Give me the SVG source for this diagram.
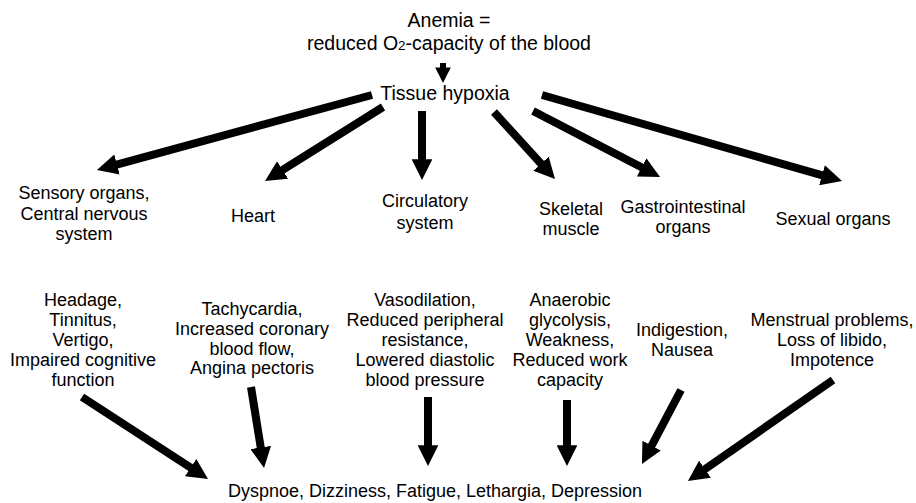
<svg xmlns="http://www.w3.org/2000/svg" width="916" height="503" viewBox="0 0 916 503">
<style>
  text { font-family: "Liberation Sans", Arial, sans-serif; fill: #000; text-anchor: middle; }
  .top { font-size: 19.5px; }
  .lbl { font-size: 18px; }
  .arr { stroke: #000; stroke-width: 8; fill: none; marker-end: url(#ah); }
  .arr-s { stroke: #000; stroke-width: 6; fill: none; marker-end: url(#ah); }
</style>
<defs>
  <marker id="ah" viewBox="0 0 10 10" refX="2" refY="5" markerWidth="2.6" markerHeight="2.6" orient="auto" markerUnits="strokeWidth">
    <path d="M0,0 L10,5 L0,10 z" fill="#000"/>
  </marker>
</defs>
<rect width="916" height="503" fill="#fff"/>

<g id="anemia">
  <text class="top" x="449" y="27">Anemia =</text>
  <text class="top" x="449" y="50">reduced O<tspan font-size="13.5">2</tspan>-capacity of the blood</text>
</g>
<g id="tissue-hypoxia">
  <text class="top" x="445" y="100">Tissue hypoxia</text>
</g>

<g id="sensory">
  <text class="lbl" x="84" y="199">Sensory organs,</text>
  <text class="lbl" x="84" y="220">Central nervous</text>
  <text class="lbl" x="84" y="240">system</text>
</g>
<g id="heart">
  <text class="lbl" x="253" y="222">Heart</text>
</g>
<g id="circulatory">
  <text class="lbl" x="425" y="207">Circulatory</text>
  <text class="lbl" x="425" y="229">system</text>
</g>
<g id="skeletal">
  <text class="lbl" x="571" y="215">Skeletal</text>
  <text class="lbl" x="571" y="235">muscle</text>
</g>
<g id="gastro">
  <text class="lbl" x="683" y="213">Gastrointestinal</text>
  <text class="lbl" x="683" y="233">organs</text>
</g>
<g id="sexual">
  <text class="lbl" x="833" y="225">Sexual organs</text>
</g>

<g id="sym-cns">
  <text class="lbl" x="83" y="306">Headage,</text>
  <text class="lbl" x="83" y="326">Tinnitus,</text>
  <text class="lbl" x="83" y="346">Vertigo,</text>
  <text class="lbl" x="83" y="366">Impaired cognitive</text>
  <text class="lbl" x="83" y="386">function</text>
</g>
<g id="sym-heart">
  <text class="lbl" x="252" y="315">Tachycardia,</text>
  <text class="lbl" x="252" y="335">Increased coronary</text>
  <text class="lbl" x="252" y="355">blood flow,</text>
  <text class="lbl" x="252" y="374">Angina pectoris</text>
</g>
<g id="sym-circ">
  <text class="lbl" x="425" y="306">Vasodilation,</text>
  <text class="lbl" x="425" y="326">Reduced peripheral</text>
  <text class="lbl" x="425" y="346">resistance,</text>
  <text class="lbl" x="425" y="366">Lowered diastolic</text>
  <text class="lbl" x="425" y="386">blood pressure</text>
</g>
<g id="sym-muscle">
  <text class="lbl" x="570" y="306">Anaerobic</text>
  <text class="lbl" x="570" y="326">glycolysis,</text>
  <text class="lbl" x="570" y="346">Weakness,</text>
  <text class="lbl" x="570" y="366">Reduced work</text>
  <text class="lbl" x="570" y="386">capacity</text>
</g>
<g id="sym-gi">
  <text class="lbl" x="682" y="336">Indigestion,</text>
  <text class="lbl" x="682" y="356">Nausea</text>
</g>
<g id="sym-sex">
  <text class="lbl" x="832" y="326">Menstrual problems,</text>
  <text class="lbl" x="832" y="346">Loss of libido,</text>
  <text class="lbl" x="832" y="366">Impotence</text>
</g>

<g id="outcome">
  <text class="lbl" x="435" y="497">Dyspnoe, Dizziness, Fatigue, Lethargia, Depression</text>
</g>

<g id="connectors">
  <line class="arr-s" x1="443" y1="63" x2="443" y2="70.5"/>
  <line class="arr" x1="372" y1="95" x2="113" y2="165.6"/>
  <line class="arr" x1="383" y1="107" x2="279.1" y2="172.2"/>
  <line class="arr" x1="422" y1="111" x2="422" y2="163.4"/>
  <line class="arr" x1="494" y1="112" x2="543.8" y2="166.7"/>
  <line class="arr" x1="533" y1="111" x2="645.3" y2="169.3"/>
  <line class="arr" x1="542" y1="95" x2="826" y2="176.4"/>
  <line class="arr" x1="82" y1="397" x2="194.1" y2="469.9"/>
  <line class="arr" x1="251" y1="387" x2="261.4" y2="451.6"/>
  <line class="arr" x1="428" y1="397" x2="428" y2="449.4"/>
  <line class="arr" x1="567" y1="400" x2="567" y2="449.4"/>
  <line class="arr" x1="681" y1="390" x2="649.7" y2="449.3"/>
  <line class="arr" x1="833" y1="380" x2="701.6" y2="471.5"/>
</g>
</svg>
